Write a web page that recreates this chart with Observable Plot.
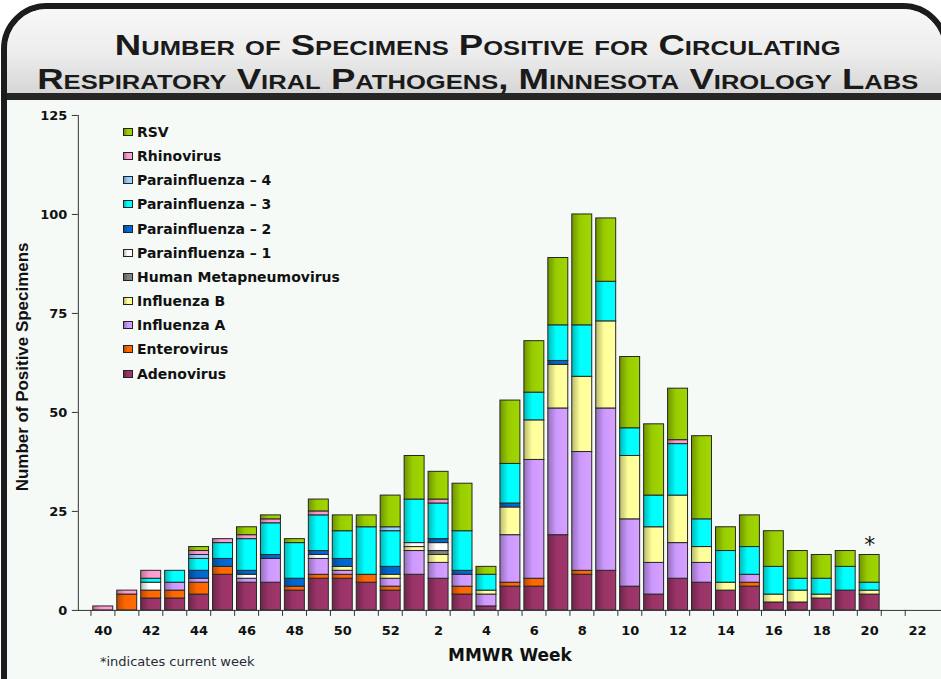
<!DOCTYPE html>
<html><head><meta charset="utf-8">
<script src="https://cdn.jsdelivr.net/npm/d3@7"></script>
<script src="https://cdn.jsdelivr.net/npm/@observablehq/plot@0.6"></script>
<style>
html,body{margin:0;padding:0;background:#fff;width:941px;height:679px;overflow:hidden;position:relative;}
#frame{position:absolute;left:1px;top:3px;width:948px;height:682px;box-sizing:border-box;border:6px solid #1c1c1c;border-radius:46px 46px 0 0;background:#f5faf7;overflow:hidden;}
#titlebg{position:absolute;left:0;top:0;width:100%;height:84px;background:linear-gradient(to bottom,#f8f8f8 0%,#ececec 55%,#d6d6d6 100%);border-bottom:7px solid #262626;}
#title{position:absolute;white-space:nowrap;text-align:center;font-family:"Liberation Sans Narrow","Liberation Sans",sans-serif;font-weight:bold;font-variant:small-caps;font-size:30px;line-height:34px;color:#1a1a1a;transform-origin:center center;}
#chart{position:absolute;left:0;top:100px;}
#legend{position:absolute;left:123px;top:124px;font-family:"DejaVu Sans",sans-serif;font-weight:bold;font-size:14px;color:#111;}
.lrow{position:absolute;left:0;height:16px;white-space:nowrap;display:flex;align-items:center;}
.sw{width:10px;height:8px;border:1px solid #222;margin-right:4px;box-sizing:border-box;}
#caption{position:absolute;left:100px;top:654px;font-family:"DejaVu Sans",sans-serif;font-size:13px;line-height:16px;color:#2a2a35;}
</style>
</head><body>
<div id="frame"><div id="titlebg"></div></div>
<div id="title">Number of Specimens Positive for Circulating<br>Respiratory Viral Pathogens, Minnesota Virology Labs</div>
<div id="chart"></div>
<div id="legend"></div>
<div id="caption">*indicates current week</div>
<script>
// ---- data ----
const weeks = [40,41,42,43,44,45,46,47,48,49,50,51,52,1,2,3,4,5,6,7,8,9,10,11,12,13,14,15,16,17,18,19,20];
const xDomain = [...weeks, 21, 22];
const xLabels = [40,42,44,46,48,50,52,2,4,6,8,10,12,14,16,18,20,22];
const yTicks = [0,25,50,75,100,125];
const currentWeek = 20;
const yTitle = "Number of Positive Specimens";
const xTitle = "MMWR Week";

const series = ["Adenovirus","Enterovirus","Influenza A","Influenza B","Human Metapneumovirus",
  "Parainfluenza – 1","Parainfluenza – 2","Parainfluenza – 3","Parainfluenza – 4","Rhinovirus","RSV"];
const colors = ["#993366","#ff6600","#cc99ff","#ffff99","#808080",
  "#ffffff","#0066cc","#00ffff","#99ccff","#ff99cc","#99cc00"];

const adenovirus  = [0,0,3,3,4,9,7,7,5,8,8,7,5, 9,8,4,1,6,6,19,9,10,6,4,8,7,5,6,2,2,3,5,4];
const enterovirus = [0,4,2,2,3,2,0,0,1,1,1,2,1, 0,0,2,0,1,2,0,1,0,0,0,0,0,0,1,0,0,0,0,0];
const influenzaA  = [0,0,0,2,1,0,1,6,0,4,1,0,2, 6,4,3,3,12,30,32,30,41,17,8,9,5,0,2,0,0,0,0,0];
const influenzaB  = [0,0,0,0,0,0,0,0,0,0,1,0,1, 1,2,0,1,7,10,11,19,22,16,9,12,4,2,0,2,3,1,0,1];
const hmpv        = [0,0,0,0,0,0,0,0,0,0,0,0,0, 0,1,0,0,0,0,0,0,0,0,0,0,0,0,0,0,0,0,0,0];
const para1       = [0,0,2,0,0,0,1,0,0,1,0,0,0, 1,2,0,0,0,0,0,0,0,0,0,0,0,0,0,0,0,0,0,0];
const para2       = [0,0,0,0,2,2,1,1,2,1,2,0,2, 0,1,1,0,1,0,1,0,0,0,0,0,0,0,0,0,0,0,0,0];
const para3       = [0,0,1,3,3,4,8,8,9,9,7,12,9, 11,9,10,4,10,7,9,13,10,7,8,13,7,8,7,7,3,4,6,2];
const para4       = [0,0,0,0,1,0,0,0,0,0,0,0,1, 0,0,0,0,0,0,0,0,0,0,0,0,0,0,0,0,0,0,0,0];
const rhinovirus  = [1,1,2,0,1,1,1,1,0,1,0,0,0, 0,1,0,0,0,0,0,0,0,0,0,1,0,0,0,0,0,0,0,0];
const rsv         = [0,0,0,0,1,0,2,1,1,3,4,3,8, 11,7,12,2,16,13,17,28,16,18,18,13,21,6,8,9,7,6,4,7];

const seriesValues = [adenovirus,enterovirus,influenzaA,influenzaB,hmpv,para1,para2,para3,para4,rhinovirus,rsv];

// ---- build ----
const tidy = [];
series.forEach((s, si) => weeks.forEach((w, wi) => tidy.push({week: w, series: s, value: seriesValues[si][wi]})));
const totals = weeks.map((w, wi) => ({week: w, total: d3.sum(seriesValues, v => v[wi])}));
const starData = totals.filter(d => d.week === currentWeek);

const W = 943, H = 579, ML = 78, MR = 0;
const step = (W - ML - MR) / xDomain.length;
const FONT = "DejaVu Sans";

const chart = Plot.plot({
  width: W, height: H,
  marginTop: 15, marginBottom: 68, marginLeft: ML, marginRight: MR,
  style: {background: "transparent", fontFamily: FONT, color: "#111", overflow: "visible"},
  x: {type: "band", domain: xDomain, paddingInner: 0.18, paddingOuter: 0.09, axis: null},
  y: {domain: [0, 125], axis: null},
  color: {domain: series, range: series.map((_, i) => `url(#grad${i})`)},
  marks: [
    Plot.frame({anchor: "left", stroke: "#333"}),
    Plot.axisY({ticks: yTicks, tickSize: 6, tickPadding: 5, fontSize: 13, fontWeight: "bold", fontFamily: FONT, label: null, stroke: "#333"}),
    Plot.text([yTitle], {frameAnchor: "left", textAnchor: "middle", rotate: -90, dx: -56, dy: 4, fontSize: 17, fontWeight: "bold", fontFamily: "Liberation Sans", fill: "#111"}),
    Plot.axisX({ticks: xDomain, tickSize: 6, tickFormat: () => "", dx: -step / 2, label: null, stroke: "#333"}),
    Plot.axisX({ticks: xLabels, tickSize: 0, tickPadding: 15, fontSize: 13, fontWeight: "bold", fontFamily: FONT, label: null}),
    Plot.text([xTitle], {frameAnchor: "bottom", dy: 51, fontSize: 17, fontWeight: "bold", fontFamily: FONT, fill: "#111"}),
    Plot.barY(tidy, {x: "week", y: "value", fill: "series", order: series, stroke: "#262626", strokeWidth: 1}),
    Plot.ruleY([0], {stroke: "#333"}),
    Plot.text(starData, {x: "week", y: "total", text: () => "*", fontSize: 22, lineAnchor: "middle", dy: -10, fill: "#111", fontFamily: FONT})
  ]
});

// gradients
const NS = "http://www.w3.org/2000/svg";
const defs = document.createElementNS(NS, "defs");
colors.forEach((c, i) => {
  const g = document.createElementNS(NS, "linearGradient");
  g.setAttribute("id", `grad${i}`);
  g.setAttribute("x1", "0"); g.setAttribute("y1", "0"); g.setAttribute("x2", "1"); g.setAttribute("y2", "0");
  const stops = [[0, d3.color(c).darker(0.9)], [0.42, d3.color(c)], [1, d3.color(c).brighter(0.15)]];
  stops.forEach(([o, col]) => {
    const s = document.createElementNS(NS, "stop");
    s.setAttribute("offset", o); s.setAttribute("stop-color", col.formatHex());
    g.appendChild(s);
  });
  defs.appendChild(g);
});
chart.insertBefore(defs, chart.firstChild);
document.getElementById("chart").appendChild(chart);

// legend (top entry = last stacked)
const legend = document.getElementById("legend");
series.slice().reverse().forEach((s, k) => {
  const i = series.length - 1 - k;
  const c = d3.color(colors[i]);
  const row = document.createElement("div");
  row.className = "lrow";
  row.style.top = (k * 24.15) + "px";
  const sw = document.createElement("div");
  sw.className = "sw";
  sw.style.background = `linear-gradient(to right, ${c.darker(0.9).formatHex()}, ${c.formatHex()} 45%, ${c.brighter(0.15).formatHex()})`;
  const tx = document.createElement("span");
  tx.textContent = s;
  row.appendChild(sw); row.appendChild(tx);
  legend.appendChild(row);
});

// title fit
(function () {
  const el = document.getElementById("title");
  const w = el.getBoundingClientRect().width;
  el.style.left = (478 - w / 2) + "px";
  el.style.top = "28px";
  el.style.transform = `scaleX(${881 / w})`;
})();
</script>
</body></html>
